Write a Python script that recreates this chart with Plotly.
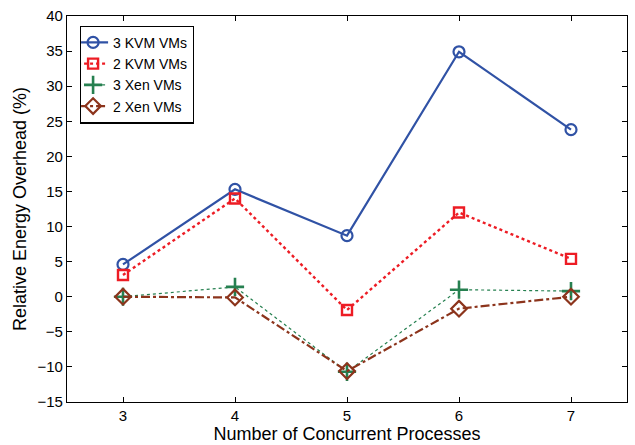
import plotly.graph_objects as go

# Number of concurrent processes
processes = [3, 4, 5, 6, 7]

# Relative energy overhead (%) per configuration
kvm3 = [4.6, 15.3, 8.7, 34.9, 23.8]
kvm2 = [3.1, 14.0, -1.9, 12.0, 5.4]
xen3 = [0.0, 1.4, -10.7, 1.0, 0.8]
xen2 = [0.0, -0.1, -10.6, -1.7, 0.0]

y_ticks = [40, 35, 30, 25, 20, 15, 10, 5, 0, -5, -10, -15]
y_tick_text = ["40", "35", "30", "25", "20", "15", "10", "5", "0", "\u22125", "\u221210", "\u221215"]

series = [
    ("3 KVM VMs", kvm3, "rgb(48,82,165)", "solid", 2.2,
     dict(symbol="circle-open", size=11, line=dict(width=2.2))),
    ("2 KVM VMs", kvm2, "rgb(237,28,36)", "dot", 2.4,
     dict(symbol="square-open", size=10, line=dict(width=2.4))),
    ("3 Xen VMs", xen3, "rgb(38,128,80)", "dot", 1.2,
     dict(symbol="cross-thin-open", size=13, line=dict(width=2.6))),
    ("2 Xen VMs", xen2, "rgb(140,52,28)", "dashdot", 2.2,
     dict(symbol="diamond-open", size=12, line=dict(width=2.2))),
]

fig = go.Figure()
for name, vals, color, dash, width, marker in series:
    marker = dict(marker, color=color)
    marker["line"]["color"] = color
    fig.add_trace(go.Scatter(
        x=processes, y=vals, name=name, mode="lines+markers",
        line=dict(color=color, dash=dash, width=width),
        marker=marker,
    ))

axis_common = dict(
    showgrid=False, zeroline=False, showline=True, linecolor="black",
    linewidth=1.2, mirror="allticks", ticks="inside", ticklen=5,
    tickcolor="black", tickfont=dict(family="Liberation Sans, Arial", size=15, color="black"),
)

fig.update_layout(
    width=635, height=445,
    margin=dict(l=67, r=7, t=12, b=43),
    paper_bgcolor="white", plot_bgcolor="white",
    font=dict(family="Liberation Sans, Arial", color="black"),
    xaxis=dict(axis_common, range=[2.5, 7.5], tickvals=processes,
               title=dict(text="Number of Concurrent Processes",
                          font=dict(size=18), standoff=0)),
    yaxis=dict(axis_common, range=[-15, 40], tickvals=y_ticks, ticktext=y_tick_text,
               title=dict(text="Relative Energy Overhead (%)",
                          font=dict(size=18), standoff=6)),
    legend=dict(x=0.023, y=0.975, xanchor="left", yanchor="top",
                bgcolor="white", bordercolor="black", borderwidth=1.2,
                font=dict(size=14), tracegroupgap=0, itemwidth=30,
                indentation=-8),
    showlegend=True,
)

fig.write_html("out.html")
